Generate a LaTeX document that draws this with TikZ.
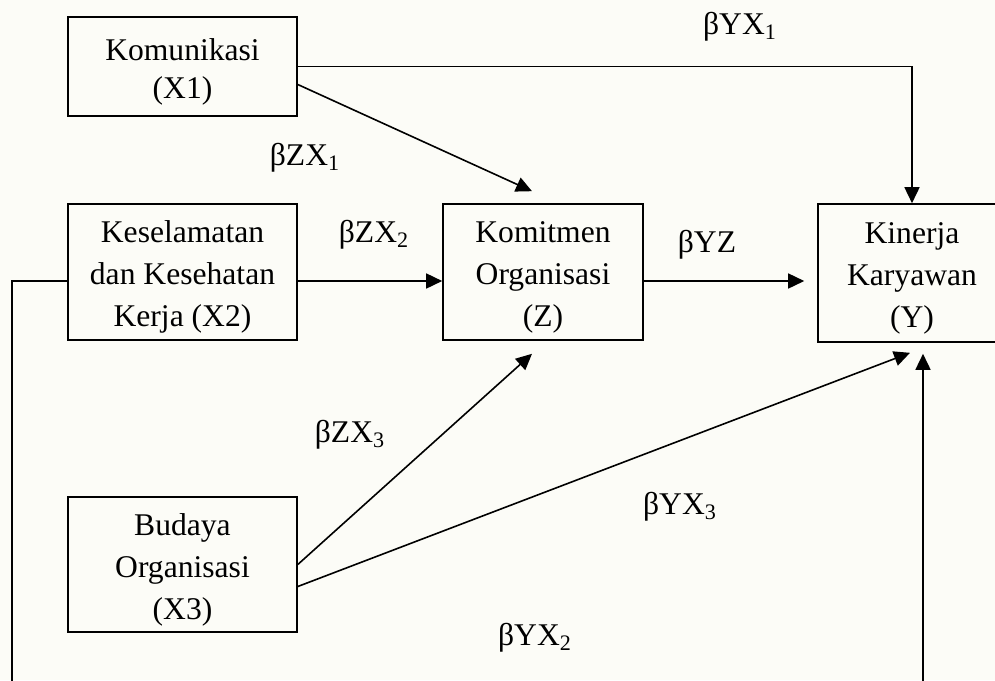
\documentclass[tikz,border=0pt]{standalone}
\usepackage{fontspec}
\setmainfont{Liberation Serif}
\usetikzlibrary{arrows.meta,positioning}
\definecolor{paper}{RGB}{252,252,247}
\newcommand{\topgap}{\rule{0pt}{16pt}}
\tikzset{
	var/.style={draw, line width=0.8pt, align=center, inner sep=0pt},
	link/.style={-{Triangle[length=8pt,width=7.5pt]}, line width=0.8pt},
	coef/.style={inner sep=0pt}
}
\begin{document}
\begin{tikzpicture}[x=0.5pt, y=-0.5pt, font=\fontsize{15.8}{21}\selectfont]
	\useasboundingbox (0,0) rectangle (995,680);
	\fill[paper] (0,0) rectangle (995,680);
	\clip (0,0) rectangle (995,680);

	% variables
	\node[var, minimum width=114.5pt, minimum height=49.5pt] (X1) at (182.5,66.5) {\topgap Komunikasi\\[-2pt](X1)};
	\node[var, minimum width=114.5pt, minimum height=68pt] (X2) at (182.5,272) {\topgap Keselamatan\\dan Kesehatan\\Kerja (X2)};
	\node[var, minimum width=114.5pt, minimum height=67.5pt] (X3) at (182.5,564.5) {\topgap Budaya\\Organisasi\\(X3)};
	\node[var, minimum width=100pt, minimum height=68pt] (Z) at (543,272) {\topgap Komitmen\\Organisasi\\(Z)};
	\node[var, minimum width=94pt, minimum height=69pt] (Y) at (912,273) {\topgap Kinerja\\Karyawan\\(Y)};

	% coefficients
	\node[coef] (bYX1) at (740,27) {βYX\textsubscript{1}};
	\node[coef] (bZX1) at (305,158) {βZX\textsubscript{1}};
	\node[coef] (bZX2) at (374,235) {βZX\textsubscript{2}};
	\node[coef] (bYZ) at (707,245) {βYZ};
	\node[coef] (bZX3) at (350,435) {βZX\textsubscript{3}};
	\node[coef] (bYX3) at (680,507) {βYX\textsubscript{3}};
	\node[coef] (bYX2) at (535,638) {βYX\textsubscript{2}};

	% paths
	\draw[link] (X1.east) -| (Y.north);
	\draw[link] ([yshift=-9pt]X1.east) -- ([xshift=-5.5pt,yshift=6pt]Z.north);
	\draw[link] ([yshift=-4.5pt]X2.east) -- ([yshift=-4.5pt]Z.west);
	\draw[link] ([yshift=-4.5pt]Z.east) -- ([xshift=-6.5pt,yshift=-4pt]Y.west);
	\draw[link] (X3.east) -- ([xshift=-5.5pt,yshift=-6.5pt]Z.south);
	\draw[link] ([yshift=-11pt]X3.east) -- ([xshift=-1pt,yshift=-5pt]Y.south);
	\coordinate (bend) at (12,700);
	\draw[link] ([yshift=-4.5pt]X2.west) -| (bend) -| ([xshift=5.5pt,yshift=-5.5pt]Y.south);

\end{tikzpicture}
\end{document}
